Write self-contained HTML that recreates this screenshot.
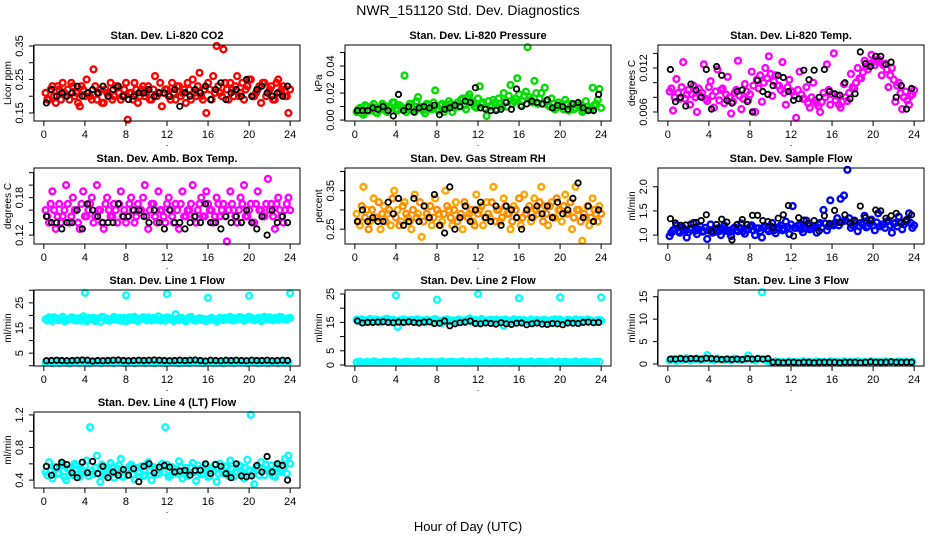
<!DOCTYPE html>
<html><head><meta charset="utf-8"><style>
body{margin:0;background:#fff;}
svg{display:block;font-family:"Liberation Sans",sans-serif;}
</style></head><body>
<svg id="chart" width="936" height="540" viewBox="0 0 936 540" xmlns="http://www.w3.org/2000/svg">
<rect width="936" height="540" fill="#fff"/>
<text x="468" y="15" text-anchor="middle" font-size="14">NWR_151120  Std. Dev. Diagnostics</text>
<text x="468" y="531" text-anchor="middle" font-size="13">Hour of Day (UTC)</text>
</svg>
<script>
// ---- data (hour positions are evenly spaced samples per series) ----
const xTicks = [0,4,8,12,16,20,24];
const co2Red = [0.21,0.19,0.23,0.18,0.22,0.24,0.20,0.19,0.23,0.21,0.17,0.22,0.25,0.20,0.28,0.19,0.22,0.18,0.21,0.24,0.20,0.23,0.19,0.22,0.13,0.21,0.24,0.18,0.22,0.20,0.23,0.19,0.26,0.21,0.17,0.22,0.20,0.24,0.19,0.23,0.21,0.18,0.22,0.25,0.20,0.27,0.19,0.15,0.22,0.26,0.35,0.21,0.34,0.22,0.24,0.20,0.26,0.21,0.19,0.23,0.25,0.20,0.22,0.18,0.24,0.21,0.23,0.19,0.25,0.22,0.20,0.15];
const co2RedB = [0.19,0.22,0.20,0.23,0.19,0.21,0.22,0.24,0.20,0.18,0.23,0.20,0.21,0.19,0.23,0.21,0.18,0.22,0.20,0.19,0.23,0.21,0.20,0.24,0.21,0.19,0.22,0.20,0.23,0.21,0.19,0.22,0.20,0.24,0.21,0.22,0.19,0.21,0.23,0.20,0.22,0.24,0.19,0.21,0.23,0.20,0.22,0.24,0.19,0.21,0.23,0.20,0.24,0.19,0.22,0.23,0.20,0.24,0.22,0.25,0.20,0.21,0.23,0.24,0.20,0.22,0.19,0.24,0.21,0.23,0.20,0.22];
const co2Black = [0.18,0.22,0.20,0.21,0.20,0.21,0.23,0.20,0.21,0.22,0.21,0.23,0.20,0.22,0.23,0.20,0.19,0.20,0.21,0.21,0.22,0.20,0.21,0.21,0.20,0.22,0.17,0.21,0.20,0.22,0.21,0.23,0.19,0.22,0.24,0.19,0.21,0.22,0.20,0.25,0.20,0.22,0.23,0.21,0.20,0.21,0.20,0.23];
const presGreen = [0.006,0.009,0.004,0.010,0.007,0.012,0.005,0.008,0.011,0.006,0.009,0.013,0.007,0.010,0.033,0.008,0.012,0.006,0.017,0.009,0.005,0.011,0.008,0.022,0.007,0.012,0.009,0.014,0.006,0.011,0.010,0.016,0.008,0.019,0.012,0.009,0.025,0.013,0.003,0.010,0.015,0.008,0.012,0.020,0.010,0.026,0.014,0.031,0.011,0.018,0.054,0.015,0.029,0.012,0.020,0.024,0.011,0.016,0.008,0.013,0.010,0.015,0.007,0.012,0.009,0.011,0.006,0.014,0.008,0.024,0.012,0.023];
const presGreenB = [0.008,0.005,0.011,0.007,0.010,0.006,0.009,0.012,0.007,0.010,0.013,0.008,0.011,0.009,0.006,0.012,0.008,0.014,0.010,0.007,0.012,0.009,0.013,0.008,0.011,0.006,0.010,0.012,0.009,0.013,0.015,0.011,0.017,0.014,0.010,0.016,0.012,0.009,0.014,0.011,0.013,0.016,0.010,0.014,0.018,0.012,0.016,0.019,0.014,0.021,0.017,0.013,0.020,0.016,0.012,0.014,0.010,0.012,0.009,0.011,0.008,0.012,0.010,0.008,0.011,0.009,0.007,0.010,0.008,0.011,0.015,0.009];
const presBlack = [0.007,0.007,0.007,0.009,0.008,0.010,0.007,0.003,0.019,0.007,0.010,0.006,0.009,0.010,0.009,0.011,0.004,0.008,0.009,0.011,0.010,0.014,0.013,0.024,0.009,0.008,0.007,0.007,0.008,0.013,0.008,0.023,0.010,0.012,0.014,0.013,0.012,0.015,0.009,0.011,0.010,0.008,0.012,0.013,0.009,0.007,0.007,0.019];
const tempMag = [0.0088,0.0062,0.0105,0.0078,0.0128,0.0084,0.0070,0.0096,0.0060,0.0082,0.0125,0.0075,0.0102,0.0066,0.0118,0.0090,0.0072,0.0108,0.0058,0.0086,0.0130,0.0064,0.0098,0.0076,0.0115,0.0060,0.0092,0.0074,0.0120,0.0136,0.0082,0.0110,0.0096,0.0128,0.0070,0.0104,0.0088,0.0052,0.0115,0.0078,0.0094,0.0066,0.0100,0.0072,0.0060,0.0086,0.0125,0.0070,0.0140,0.0082,0.0066,0.0098,0.0075,0.0112,0.0092,0.0120,0.0106,0.0130,0.0118,0.0138,0.0124,0.0132,0.0110,0.0126,0.0094,0.0120,0.0074,0.0100,0.0064,0.0088,0.0070,0.0084];
const tempMagB = [0.0092,0.0080,0.0086,0.0094,0.0078,0.0090,0.0084,0.0080,0.0092,0.0086,0.0078,0.0094,0.0082,0.0088,0.0076,0.0092,0.0084,0.0080,0.0074,0.0090,0.0082,0.0078,0.0088,0.0084,0.0096,0.0104,0.0110,0.0100,0.0106,0.0112,0.0102,0.0096,0.0090,0.0086,0.0094,0.0088,0.0082,0.0090,0.0084,0.0078,0.0072,0.0080,0.0076,0.0068,0.0074,0.0080,0.0090,0.0084,0.0076,0.0070,0.0074,0.0080,0.0086,0.0094,0.0100,0.0106,0.0114,0.0122,0.0126,0.0128,0.0130,0.0128,0.0124,0.0118,0.0110,0.0104,0.0096,0.0086,0.0080,0.0076,0.0082,0.0090];
const tempBlack = [0.0118,0.0074,0.0080,0.0068,0.0098,0.0090,0.0080,0.0118,0.0064,0.0122,0.0110,0.0076,0.0072,0.0088,0.0090,0.0074,0.0060,0.0103,0.0088,0.0084,0.0096,0.0110,0.0107,0.0088,0.0076,0.0078,0.0117,0.0104,0.0117,0.0080,0.0118,0.0088,0.0085,0.0083,0.0100,0.0078,0.0085,0.0142,0.0126,0.0122,0.0136,0.0136,0.0125,0.0128,0.0080,0.0096,0.0064,0.0092];
const ambMag = [0.16,0.14,0.19,0.13,0.17,0.15,0.20,0.14,0.18,0.16,0.13,0.19,0.15,0.17,0.14,0.20,0.16,0.13,0.18,0.15,0.17,0.14,0.19,0.16,0.15,0.18,0.14,0.17,0.16,0.20,0.13,0.17,0.15,0.19,0.16,0.14,0.18,0.15,0.17,0.13,0.19,0.15,0.16,0.20,0.14,0.17,0.15,0.19,0.16,0.14,0.18,0.15,0.17,0.11,0.19,0.16,0.14,0.18,0.20,0.15,0.17,0.14,0.19,0.16,0.15,0.21,0.17,0.13,0.18,0.15,0.16,0.18];
const ambMagB = [0.15,0.17,0.16,0.15,0.14,0.16,0.17,0.15,0.16,0.14,0.17,0.15,0.16,0.18,0.15,0.16,0.14,0.17,0.16,0.15,0.16,0.17,0.15,0.14,0.17,0.16,0.15,0.16,0.18,0.15,0.16,0.17,0.14,0.16,0.15,0.17,0.16,0.14,0.16,0.17,0.15,0.16,0.17,0.15,0.16,0.18,0.15,0.17,0.16,0.15,0.17,0.16,0.15,0.16,0.17,0.15,0.16,0.17,0.15,0.16,0.14,0.17,0.16,0.15,0.17,0.16,0.15,0.17,0.16,0.14,0.17,0.16];
const ambBlack = [0.15,0.14,0.14,0.13,0.14,0.14,0.16,0.13,0.17,0.16,0.15,0.14,0.14,0.14,0.17,0.15,0.15,0.16,0.16,0.15,0.14,0.16,0.14,0.13,0.16,0.14,0.14,0.13,0.14,0.15,0.14,0.17,0.14,0.14,0.13,0.15,0.14,0.15,0.14,0.16,0.14,0.13,0.15,0.12,0.16,0.14,0.15,0.14];
const rhOrange = [0.29,0.26,0.36,0.30,0.27,0.33,0.28,0.25,0.31,0.29,0.26,0.35,0.30,0.27,0.32,0.28,0.25,0.34,0.29,0.23,0.31,0.28,0.26,0.33,0.29,0.27,0.35,0.30,0.26,0.32,0.28,0.25,0.31,0.29,0.27,0.34,0.30,0.26,0.32,0.28,0.36,0.30,0.27,0.33,0.29,0.25,0.31,0.28,0.26,0.34,0.30,0.27,0.33,0.29,0.36,0.31,0.26,0.32,0.28,0.30,0.27,0.34,0.29,0.25,0.36,0.30,0.22,0.28,0.26,0.33,0.29,0.31];
const rhOrangeB = [0.27,0.31,0.28,0.25,0.30,0.28,0.32,0.29,0.27,0.30,0.33,0.28,0.26,0.31,0.29,0.27,0.30,0.28,0.32,0.27,0.29,0.31,0.28,0.30,0.26,0.29,0.31,0.28,0.30,0.27,0.29,0.32,0.28,0.30,0.26,0.29,0.31,0.28,0.29,0.32,0.27,0.30,0.28,0.31,0.29,0.27,0.30,0.33,0.28,0.29,0.31,0.28,0.30,0.32,0.27,0.29,0.31,0.28,0.33,0.30,0.31,0.29,0.32,0.28,0.30,0.27,0.29,0.31,0.28,0.30,0.27,0.29];
const rhBlack = [0.27,0.30,0.27,0.28,0.27,0.27,0.32,0.29,0.33,0.26,0.27,0.33,0.27,0.31,0.28,0.34,0.26,0.24,0.36,0.25,0.28,0.31,0.27,0.30,0.32,0.28,0.27,0.31,0.26,0.31,0.30,0.28,0.25,0.30,0.28,0.31,0.29,0.31,0.28,0.32,0.29,0.30,0.33,0.37,0.28,0.31,0.27,0.30];
const flowBlue = [0.98,1.10,1.20,1.05,1.15,0.95,1.12,1.25,1.02,1.18,1.08,0.92,1.22,1.06,1.14,1.00,1.20,1.10,0.98,1.16,1.08,1.24,1.03,1.12,1.20,1.00,1.14,0.95,1.18,1.08,1.25,1.04,1.16,1.10,1.28,1.02,1.60,1.15,1.22,1.06,1.30,1.12,1.18,1.05,1.25,1.52,1.10,1.72,1.20,1.35,1.75,1.82,2.35,1.15,1.30,1.08,1.25,1.40,1.18,1.32,1.10,1.45,1.22,1.15,1.30,1.05,1.25,1.38,1.12,1.28,1.45,1.15];
const flowBlueB = [1.05,1.12,1.08,1.15,1.10,1.06,1.14,1.09,1.12,1.07,1.15,1.10,1.05,1.12,1.08,1.14,1.09,1.06,1.13,1.10,1.15,1.08,1.12,1.17,1.10,1.14,1.08,1.16,1.12,1.18,1.10,1.15,1.20,1.13,1.17,1.22,1.15,1.19,1.12,1.16,1.20,1.14,1.18,1.22,1.16,1.24,1.18,1.22,1.26,1.20,1.28,1.30,1.35,1.20,1.25,1.18,1.22,1.16,1.24,1.20,1.26,1.18,1.22,1.28,1.20,1.24,1.18,1.26,1.22,1.30,1.25,1.20];
const flowBlack = [1.34,1.25,1.20,1.21,1.23,1.26,1.30,1.42,1.08,1.22,1.33,1.27,0.90,1.22,1.32,1.22,1.41,1.41,1.30,1.28,1.16,1.35,1.42,1.61,0.98,1.36,1.31,1.25,1.30,1.08,1.40,1.24,1.51,1.26,1.42,1.25,1.30,1.60,1.36,1.30,1.52,1.50,1.35,1.40,1.45,1.25,1.32,1.42];
const l1CyanHigh = [18.5,19.2,17.8,18.9,18.2,19.5,17.9,18.6,19.1,18.0,18.8,19.6,17.7,18.4,19.0,18.3,17.6,19.3,18.7,18.1,19.4,18.5,17.9,19.0,18.6,18.2,19.5,17.8,18.9,18.4,19.2,18.0,18.7,19.6,18.3,17.9,19.0,18.5,20.5,18.1,18.8,17.7,19.2,18.4,18.0,18.9,18.6,17.8,18.3,18.7,17.6,19.1,18.2,18.8,19.4,18.0,18.5,19.3,17.9,18.6,19.2,18.1,18.9,17.8,19.4,18.4,18.8,19.0,18.2,19.3,18.5,18.9];
const l1CyanHighB = [18.0,18.7,19.3,18.2,18.9,17.7,18.5,19.2,18.1,18.8,17.9,18.4,19.1,18.6,17.8,18.9,19.4,18.2,17.9,18.7,18.3,19.0,18.5,17.7,19.2,18.8,18.0,18.6,19.3,18.1,18.5,19.0,18.3,18.0,18.9,19.2,18.4,17.8,18.6,19.1,18.2,18.7,19.4,18.0,18.6,18.2,17.9,18.5,19.0,18.1,18.7,18.3,19.0,18.5,18.1,18.8,19.2,18.4,18.9,19.5,18.3,18.7,19.1,18.5,18.9,19.2,18.1,18.6,19.4,18.7,18.3,19.0];
const l1CyanLow = [1.2,1.5,1.0,1.4,1.1,1.6,1.2,1.0,1.5,1.3,1.1,1.4,1.2,1.0,1.5,1.3,1.1,1.6,1.2,1.4,1.0,1.3,1.5,1.1,1.2,1.4,1.0,1.6,1.3,1.1,1.5,1.2,1.0,1.4,1.3,1.1,1.5,1.2,1.4,1.0,1.6,1.3,1.1,1.5,1.2,1.4,1.0,1.3,1.5,1.1,1.2,1.4,1.0,1.6,1.3,1.1,1.5,1.2,1.4,1.0,1.3,1.5,1.1,1.2,1.4,1.0,1.6,1.3,1.1,1.5,1.2,1.4];
const l1Black = [2.0,2.1,2.2,2.1,2.0,2.1,2.2,2.3,2.2,1.9,2.1,2.0,2.1,2.2,2.3,2.1,2.0,2.1,2.2,2.1,2.2,2.3,2.2,2.1,2.0,2.1,2.2,2.1,2.2,2.3,2.1,1.9,2.2,2.1,2.0,2.2,2.1,2.2,2.1,2.0,2.2,2.1,2.1,2.2,2.0,2.1,2.2,2.1];
const l1OutHours = [4,8,12,16,20,24];
const l1OutVals = [29,28,28.5,27,27.8,28.8];
const l2CyanHigh = [16.0,15.4,15.8,15.2,16.2,15.5,15.9,15.1,15.7,16.3,15.3,15.8,13.4,15.6,16.0,15.2,15.9,15.4,16.1,15.5,15.0,15.8,15.3,16.2,15.6,14.8,15.9,15.4,15.7,15.1,16.0,15.5,15.8,16.4,15.2,15.7,15.0,15.9,15.4,15.8,15.2,16.0,15.5,13.8,15.7,15.3,16.1,15.6,15.1,15.8,15.4,16.0,15.2,15.7,15.5,15.9,15.3,15.8,16.1,15.4,15.6,15.2,15.9,15.5,16.0,15.3,15.7,15.4,15.9,15.6,15.2,15.8];
const l2CyanHighB = [15.6,16.1,15.3,15.9,15.5,16.0,15.2,15.8,16.2,15.4,15.9,15.1,15.7,16.0,15.3,15.8,15.5,16.1,15.2,15.7,15.9,15.4,16.0,15.6,15.2,15.8,16.1,15.5,15.3,15.9,15.6,15.2,16.0,15.4,15.8,15.5,16.2,15.3,15.7,15.9,15.5,15.1,15.8,16.0,15.4,15.6,15.2,15.9,15.7,15.3,15.6,15.1,15.8,15.4,15.9,15.6,15.2,15.7,15.5,16.0,15.3,15.8,15.4,15.7,15.2,15.9,15.6,16.0,15.5,15.3,15.8,15.6];
const l2CyanLow = [1.0,1.2,0.8,1.1,0.9,1.3,1.0,0.8,1.2,1.1,0.9,1.3,1.0,0.8,1.1,1.2,0.9,1.0,1.3,0.8,1.1,1.0,1.2,0.9,1.0,1.3,0.8,1.1,1.2,0.9,1.0,1.3,0.8,1.1,1.0,1.2,0.9,1.0,1.3,0.8,1.1,1.2,0.9,1.0,1.3,0.8,1.1,1.0,1.2,0.9,1.0,1.3,0.8,1.1,1.2,0.9,1.0,1.3,0.8,1.1,1.0,1.2,0.9,1.0,1.3,0.8,1.1,1.2,0.9,1.0,1.2,1.1];
const l2Black = [15.5,14.8,15.0,15.0,15.1,15.2,15.0,14.9,15.1,15.0,15.2,15.0,14.8,15.1,15.2,14.6,14.7,15.5,13.8,14.5,14.9,15.1,15.5,14.6,14.5,14.8,14.6,14.4,14.9,14.5,14.3,14.7,14.8,14.2,14.5,14.8,14.4,14.3,14.6,14.5,14.2,14.8,14.7,14.6,15.0,15.1,14.9,15.0];
const l2OutHours = [4,8,12,16,20,24];
const l2OutVals = [24.5,23,25,23.5,23.8,23.8];
const l3Cyan = [0.8,1.1,0.7,1.2,0.9,1.3,0.8,1.0,1.2,0.9,1.1,2.0,1.0,0.8,1.2,1.0,0.9,1.1,0.8,1.2,1.0,0.9,1.1,1.9,1.0,0.8,1.2,16.0,0.9,0.5,0.3,0.6,0.4,0.5,0.3,0.6,0.4,0.5,0.3,0.6,0.4,0.5,0.3,0.6,0.4,0.5,0.3,0.6,0.4,0.5,0.3,0.6,0.4,0.5,0.3,0.6,0.4,0.5,0.3,0.6,0.4,0.5,0.3,0.6,0.4,0.5,0.3,0.6,0.4,0.5,0.3,0.5];
const l3Black = [1.1,1.1,1.2,1.1,1.2,1.2,1.1,1.3,1.2,1.1,1.0,1.1,1.0,1.1,1.0,1.2,1.1,1.2,1.1,1.2,0.4,0.4,0.3,0.4,0.4,0.3,0.4,0.4,0.3,0.4,0.4,0.4,0.4,0.3,0.4,0.4,0.4,0.3,0.4,0.5,0.4,0.4,0.4,0.5,0.4,0.4,0.4,0.4];
const l4Cyan = [0.50,0.62,0.42,0.55,0.48,0.60,0.40,0.53,0.46,0.58,0.44,0.51,0.64,1.05,0.47,0.70,0.38,0.56,0.49,0.61,0.43,0.54,0.66,0.45,0.52,0.59,0.41,0.50,0.57,0.46,0.62,0.40,0.54,0.48,0.60,1.05,0.44,0.56,0.50,0.63,0.42,0.55,0.47,0.61,0.39,0.53,0.49,0.58,0.45,0.52,0.38,0.60,0.48,0.56,0.64,0.44,0.51,0.57,0.42,0.65,1.20,0.35,0.55,0.62,0.46,0.53,0.58,0.44,0.60,0.50,0.66,0.70];
const l4CyanB = [0.46,0.52,0.56,0.48,0.58,0.44,0.54,0.50,0.60,0.47,0.53,0.57,0.45,0.51,0.55,0.48,0.59,0.46,0.52,0.56,0.49,0.58,0.44,0.53,0.57,0.47,0.55,0.50,0.45,0.58,0.52,0.56,0.47,0.53,0.50,0.59,0.46,0.54,0.48,0.57,0.51,0.45,0.56,0.50,0.58,0.47,0.53,0.44,0.55,0.59,0.48,0.52,0.57,0.45,0.54,0.50,0.58,0.47,0.55,0.52,0.48,0.56,0.46,0.53,0.59,0.50,0.45,0.57,0.52,0.55,0.48,0.60];
const l4Black = [0.57,0.46,0.56,0.62,0.59,0.49,0.43,0.62,0.49,0.63,0.48,0.57,0.43,0.50,0.46,0.53,0.46,0.54,0.38,0.57,0.60,0.49,0.56,0.58,0.56,0.50,0.51,0.52,0.46,0.52,0.52,0.60,0.48,0.59,0.57,0.48,0.43,0.60,0.45,0.44,0.45,0.58,0.50,0.69,0.50,0.60,0.58,0.40];

const NS = 'http://www.w3.org/2000/svg';
const svg = document.getElementById('chart');
const colX = [34, 345, 658], rowY = [45, 168, 290, 412], BW = 266, BH = 76;
const XMIN = -0.96, XMAX = 24.96;

const panels = [
 {key:'co2', title:'Stan. Dev. Li-820 CO2', ylab:'Licor ppm', c:0, r:0, ymin:0.126, ymax:0.353, ticks:[0.15,0.20,0.25,0.30,0.35], labels:['0.15','','0.25','','0.35'],
  series:[{v:co2Red,col:'#ff0000'},{v:co2RedB,col:'#ff0000',off:0.17},{v:co2Black,col:'#000'}]},
 {key:'pressure', title:'Stan. Dev. Li-820 Pressure', ylab:'kPa', c:1, r:0, ymin:-0.0007, ymax:0.0556, ticks:[0,0.01,0.02,0.03,0.04,0.05], labels:['0.00','','0.02','','0.04',''],
  series:[{v:presGreen,col:'#00dd00'},{v:presGreenB,col:'#00dd00',off:0.17},{v:presBlack,col:'#000'}]},
 {key:'li-temp', title:'Stan. Dev. Li-820 Temp.', ylab:'degrees C', c:2, r:0, ymin:0.00477, ymax:0.01514, ticks:[0.006,0.008,0.010,0.012,0.014], labels:['0.006','','','0.012',''],
  series:[{v:tempMag,col:'#ff00ff'},{v:tempMagB,col:'#ff00ff',off:0.17},{v:tempBlack,col:'#000'}]},
 {key:'amb-temp', title:'Stan. Dev. Amb. Box Temp.', ylab:'degrees C', c:0, r:1, ymin:0.1058, ymax:0.2274, ticks:[0.12,0.14,0.16,0.18,0.20,0.22], labels:['0.12','','','0.18','',''],
  series:[{v:ambMag,col:'#ff00ff'},{v:ambMagB,col:'#ff00ff',off:0.17},{v:ambBlack,col:'#000'}]},
 {key:'rh', title:'Stan. Dev. Gas Stream RH', ylab:'percent', c:1, r:1, ymin:0.2115, ymax:0.409, ticks:[0.25,0.30,0.35,0.40], labels:['0.25','','0.35',''],
  series:[{v:rhOrange,col:'#ffa500'},{v:rhOrangeB,col:'#ff8c00',off:0.17},{v:rhBlack,col:'#000'}]},
 {key:'sample-flow', title:'Stan. Dev. Sample Flow', ylab:'ml/min', c:2, r:1, ymin:0.816, ymax:2.388, ticks:[1.0,1.5,2.0], labels:['1.0','1.5','2.0'],
  series:[{v:flowBlue,col:'#0000ff'},{v:flowBlueB,col:'#0000ff',off:0.17},{v:flowBlack,col:'#000'}]},
 {key:'line1', title:'Stan. Dev. Line 1 Flow', ylab:'ml/min', c:0, r:2, ymin:-0.1, ymax:30.1, ticks:[0,5,10,15,20,25,30], labels:['','5','','15','','25',''],
  series:[{v:l1CyanHigh,col:'#00ffff'},{v:l1CyanHighB,col:'#00ffff',off:0.17},{v:l1CyanLow,col:'#00ffff'},{h:l1OutHours,v:l1OutVals,col:'#00ffff'},{v:l1Black,col:'#000'}]},
 {key:'line2', title:'Stan. Dev. Line 2 Flow', ylab:'ml/min', c:1, r:2, ymin:-0.35, ymax:26.4, ticks:[0,5,10,15,20,25], labels:['0','5','','15','','25'],
  series:[{v:l2CyanHigh,col:'#00ffff'},{v:l2CyanHighB,col:'#00ffff',off:0.17},{v:l2CyanLow,col:'#00ffff'},{h:l2OutHours,v:l2OutVals,col:'#00ffff'},{v:l2Black,col:'#000'}]},
 {key:'line3', title:'Stan. Dev. Line 3 Flow', ylab:'ml/min', c:2, r:2, ymin:-0.44, ymax:16.5, ticks:[0,5,10,15], labels:['0','5','10','15'],
  series:[{v:l3Cyan,col:'#00ffff'},{v:l3Black,col:'#000'}]},
 {key:'line4', title:'Stan. Dev. Line 4 (LT) Flow', ylab:'ml/min', c:0, r:3, ymin:0.303, ymax:1.236, ticks:[0.4,0.6,0.8,1.0,1.2], labels:['0.4','','0.8','','1.2'],
  series:[{v:l4Cyan,col:'#00ffff'},{v:l4CyanB,col:'#00ffff',off:0.17},{v:l4Black,col:'#000'}]},
];

function mk(tag, attrs, parent){ const e=document.createElementNS(NS,tag); for(const k in attrs) e.setAttribute(k,attrs[k]); (parent||svg).appendChild(e); return e; }

panels.forEach(p=>{
  const bx=colX[p.c], by=rowY[p.r];
  const sx = h => bx + (h - XMIN)/(XMAX - XMIN)*BW;
  const sy = v => by + BH - (v - p.ymin)/(p.ymax - p.ymin)*BH;
  const g = mk('g',{});
  
  
  const t = mk('text',{x:bx+BW/2, y:by-6, 'text-anchor':'middle','font-size':11,'font-weight':'bold'},g);
  t.textContent = p.title;
  
  
  p.series.forEach((s,si)=>{
    const black = s.col==='#000';
    const sg = mk('g',{fill:'none',stroke:s.col,'stroke-width':black?1.8:2.4},g);
    
    
    const n = s.v.length;
    const off = s.off || 0;
    s.v.forEach((v,i)=>{
      const h = s.h ? s.h[i] : Math.min(24,(i+0.5)*24/n + off);
      const c = mk('circle',{cx:sx(h).toFixed(1), cy:sy(v).toFixed(1), r:black?2.7:2.9},sg);
      
      
    });
  });
  const b = mk('rect',{x:bx,y:by,width:BW,height:BH,fill:'none',stroke:'#000','stroke-width':1},g);
  
  
  const xa = mk('g',{},g);
  
  
  mk('line',{x1:sx(0),x2:sx(24),y1:by+BH,y2:by+BH,stroke:'#000'},xa);
  xTicks.forEach(h=>{
    mk('line',{x1:sx(h),x2:sx(h),y1:by+BH,y2:by+BH+5,stroke:'#000'},xa);
    const tl = mk('text',{x:sx(h),y:by+BH+17,'text-anchor':'middle','font-size':11},xa);
    tl.textContent = h;
    
    
  });
  mk('text',{x:bx+BW/2,y:by+BH+25,'text-anchor':'middle','font-size':9},xa).textContent='.';
  const ya = mk('g',{},g);
  
  
  mk('line',{x1:bx-0.5,x2:bx-0.5,y1:sy(p.ticks[0]),y2:sy(p.ticks[p.ticks.length-1]),stroke:'#000'},ya);
  p.ticks.forEach((v,i)=>{
    mk('line',{x1:bx-5,x2:bx,y1:sy(v),y2:sy(v),stroke:'#000'},ya);
    if(p.labels[i]){
      const yy=sy(v), xx=bx-11;
      const tl = mk('text',{x:xx,y:yy,'text-anchor':'middle','font-size':11,transform:`rotate(-90 ${xx} ${yy})`},ya);
      tl.textContent = p.labels[i];
      
      
    }
  });
  const yl = mk('text',{x:bx-23,y:by+BH/2,'text-anchor':'middle','font-size':10,transform:`rotate(-90 ${bx-23} ${by+BH/2})`},g);
  yl.textContent = p.ylab;
  
  
});
</script>
</body></html>
